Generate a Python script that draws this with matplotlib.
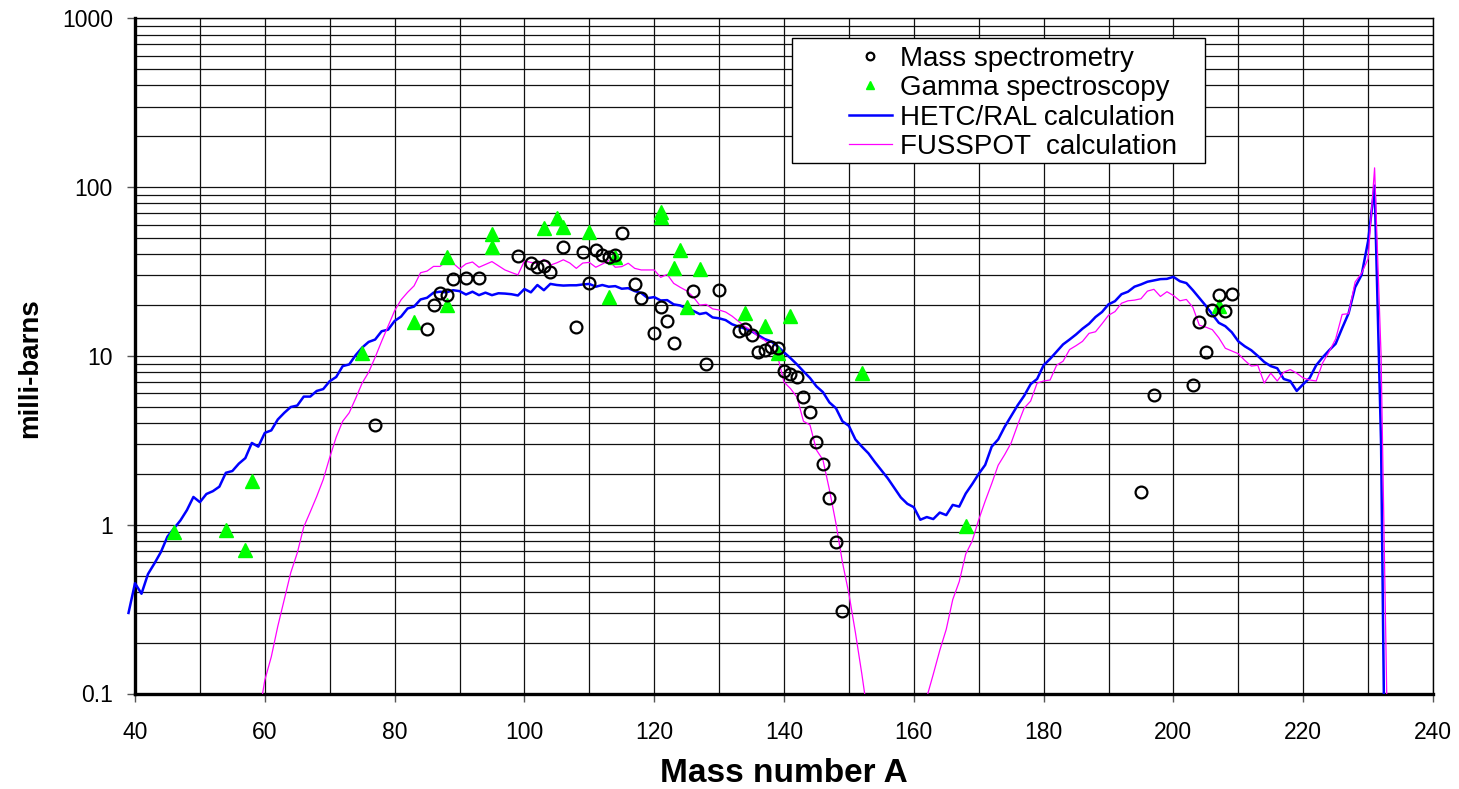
import numpy as np
import matplotlib
matplotlib.use("Agg")
import matplotlib.pyplot as plt
from matplotlib.ticker import LogLocator, MultipleLocator, NullFormatter
from matplotlib.transforms import Bbox, TransformedBbox
from matplotlib.patches import Rectangle

plt.rcParams['font.family'] = ['Liberation Sans', 'DejaVu Sans']

# --- data ---
# HETC/RAL calculation (one value per mass number)
hetc_a = list(range(39, 234))
hetc_mb = [
    0.30, 0.45, 0.39, 0.51, 0.59, 0.69, 0.85, 0.95, 1.06, 1.22,       # 39-48
    1.46, 1.36, 1.52, 1.58, 1.68, 2.03, 2.08, 2.30, 2.48, 3.05,       # 49-58
    2.90, 3.50, 3.62, 4.20, 4.60, 4.98, 5.08, 5.74, 5.74, 6.20,       # 59-68
    6.36, 7.08, 7.50, 8.70, 8.90, 10.1, 11.2, 12.1, 12.5, 14.0,       # 69-78
    14.3, 16.1, 17.1, 19.1, 19.6, 21.6, 22.1, 23.7, 24.0, 23.8,       # 79-88
    24.5, 24.2, 23.1, 24.0, 22.9, 23.7, 22.9, 23.5, 23.4, 23.2,       # 89-98
    22.8, 24.9, 23.8, 26.3, 24.5, 26.7, 26.3, 26.1, 26.2, 26.2,       # 99-108
    26.5, 26.7, 25.7, 26.3, 25.7, 25.9, 25.0, 25.2, 24.2, 23.6,       # 109-118
    22.0, 22.3, 21.3, 21.4, 20.2, 19.9, 19.1, 18.5, 17.7, 18.0,       # 119-128
    16.9, 16.7, 16.3, 15.4, 14.9, 14.5, 14.0, 13.3, 12.6, 12.2,       # 129-138
    11.4, 10.5, 9.7, 8.9, 8.1, 7.4, 6.6, 6.1, 5.3, 4.9,               # 139-148
    4.1, 3.85, 3.2, 2.9, 2.65, 2.35, 2.1, 1.88, 1.65, 1.45,           # 149-158
    1.33, 1.27, 1.07, 1.11, 1.08, 1.18, 1.14, 1.31, 1.28, 1.53,       # 159-168
    1.74, 2.0, 2.26, 2.9, 3.2, 3.8, 4.4, 5.1, 5.8, 6.8,               # 169-178
    7.3, 8.8, 9.6, 10.6, 11.7, 12.5, 13.4, 14.5, 15.5, 17.0,          # 179-188
    18.2, 20.2, 21.1, 23.2, 24.0, 25.7, 26.5, 27.5, 28.0, 28.5,       # 189-198
    28.6, 29.4, 27.7, 27.0, 24.5, 22.0, 19.8, 17.6, 15.7, 15.0,       # 199-208
    13.8, 12.2, 11.4, 10.8, 10.0, 9.2, 8.7, 8.45, 7.3, 7.1,           # 209-218
    6.2, 6.8, 7.4, 8.8, 9.8, 10.8, 11.8, 14.6, 17.9, 25.5,            # 219-228
    30.2, 47.9, 102.0, 3.0, 0.001,                                    # 229-233
]

# FUSSPOT calculation
fuss_a = list(range(59, 154)) + list(range(162, 234))
fuss_mb = [
    0.07, 0.12, 0.165, 0.25, 0.36, 0.52, 0.68, 0.97, 1.19, 1.47,      # 59-68
    1.85, 2.5, 3.3, 4.1, 4.6, 5.6, 6.9, 8.0, 9.8, 12.2,               # 69-78
    15.0, 18.5, 21.5, 23.8, 26.0, 31.1, 31.8, 33.9, 33.9, 36.5,       # 79-88
    35.4, 32.8, 35.1, 36.0, 33.5, 34.8, 36.2, 34.2, 32.3, 31.2,       # 89-98
    30.2, 36.5, 35.8, 35.3, 37.3, 34.5, 35.6, 37.1, 35.5, 33.0,       # 99-108
    35.5, 35.8, 33.5, 35.0, 36.7, 33.5, 33.8, 35.4, 33.0, 32.3,       # 109-118
    32.3, 32.3, 29.2, 30.4, 26.9, 25.5, 24.3, 22.4, 20.0, 20.2,       # 119-128
    19.0, 18.7, 18.2, 17.2, 16.0, 14.9, 14.2, 13.0, 12.4, 11.3,       # 129-138
    10.0, 7.0, 6.4, 5.7, 4.1, 3.9, 2.77, 2.42, 1.61, 1.02,            # 139-148
    0.60, 0.39, 0.23, 0.13, 0.07,                                     # 149-153
    0.095, 0.13, 0.18, 0.24, 0.36, 0.46, 0.67, 0.80,                  # 162-169
    1.07, 1.38, 1.75, 2.25, 2.6, 3.05, 3.9, 4.9, 5.4, 6.9,            # 170-179
    7.1, 7.2, 8.8, 9.3, 10.9, 11.5, 12.2, 13.6, 13.9, 15.5,           # 180-189
    17.4, 18.3, 20.5, 21.2, 21.4, 21.8, 24.2, 24.8, 22.5, 24.0,       # 190-199
    22.8, 21.2, 21.6, 19.4, 15.2, 14.8, 14.3, 12.8, 11.1, 10.7,       # 200-209
    10.3, 9.4, 8.7, 8.8, 6.9, 7.9, 7.1, 8.0, 8.3, 7.9,                # 210-219
    7.4, 7.2, 7.1, 9.1, 10.6, 12.6, 17.6, 17.8, 27.4, 30.9,           # 220-229
    37.6, 130.0, 10.0, 0.05,                                          # 230-233
]

# Mass spectrometry
ms_a = [77, 85, 86, 87, 88, 89, 91, 93, 99, 101, 102, 103, 104, 106, 108,
        109, 110, 111, 112, 113, 114, 115, 117, 118, 120, 121, 122, 123, 126,
        128, 130, 133, 134, 135, 136, 137, 138, 139, 140, 141, 142, 143, 144,
        145, 146, 147, 148, 149, 195, 197, 203, 204, 205, 206, 207, 208, 209]
ms_mb = [3.9, 14.4, 20.1, 23.5, 23.0, 28.6, 29.1, 28.9, 39.1, 35.3, 33.5,
         34.1, 31.6, 44.0, 14.8, 41.4, 26.9, 42.4, 39.6, 38.7, 39.6, 53.2,
         26.7, 21.9, 13.7, 19.6, 16.0, 11.9, 24.3, 9.0, 24.5, 14.1, 14.4,
         13.3, 10.6, 10.8, 11.3, 11.1, 8.1, 7.8, 7.5, 5.7, 4.65, 3.08, 2.28,
         1.43, 0.79, 0.31, 1.57, 5.9, 6.7, 15.9, 10.5, 18.8, 22.9, 18.5, 23.2]

# Gamma spectroscopy
gs_a = [46, 54, 57, 58, 75, 83, 88, 88, 95, 95, 103, 105, 106, 110, 113,
        114, 121, 121, 123, 124, 125, 127, 134, 137, 139, 141, 152, 168, 207]
gs_mb = [0.91, 0.93, 0.71, 1.82, 10.4, 15.8, 38.8, 20.0, 52.5, 44.4, 57.5,
         65.3, 58.2, 53.9, 22.2, 38.7, 71.4, 66.2, 33.0, 42.4, 19.4, 32.7,
         17.9, 15.1, 10.4, 17.3, 7.9, 0.98, 19.7]

x_ticks = [40, 60, 80, 100, 120, 140, 160, 180, 200, 220, 240]
y_ticks = [0.1, 1, 10, 100, 1000]
y_tick_labels = ['0.1', '1', '10', '100', '1000']

# --- figure ---
fig = plt.figure(figsize=(14.59, 7.89), dpi=100)
ax = fig.add_axes([135 / 1459, 1 - 693.5 / 789, 1298 / 1459, 675.2 / 789])

ax.set_yscale('log')
ax.set_xlim(40, 240)
ax.set_ylim(0.1, 1000)

ax.xaxis.set_minor_locator(MultipleLocator(10))
ax.set_yticks(y_ticks)
ax.set_yticklabels(y_tick_labels)
ax.yaxis.set_minor_locator(LogLocator(base=10, subs=np.arange(2, 10)))
ax.yaxis.set_minor_formatter(NullFormatter())
ax.set_xticks(x_ticks)
ax.set_xticklabels([str(t) for t in x_ticks])

ax.grid(True, which='both', color='#111111', linewidth=0.9)
ax.set_axisbelow(True)
ax.tick_params(which='major', direction='out', length=6, width=1,
               labelsize=16.5, color='#555555')
ax.tick_params(axis='x', which='major', pad=14)
ax.tick_params(axis='y', which='major', pad=10)
ax.tick_params(which='minor', length=0)

for side in ['left', 'bottom']:
    ax.spines[side].set_linewidth(2.4)
for side in ['top', 'right']:
    ax.spines[side].set_linewidth(1.0)

line_h, = ax.plot(hetc_a, hetc_mb, color='#0000ff', lw=1.8,
                  label='HETC/RAL calculation', zorder=3)
line_h.set_clip_box(TransformedBbox(Bbox([[-0.01, 0], [1, 1]]), ax.transAxes))
line_f, = ax.plot(fuss_a, fuss_mb, color='#ff00ff', lw=0.9,
                  label='FUSSPOT  calculation', zorder=3)

pts_m, = ax.plot(ms_a, ms_mb, 'o', mfc='none', mec='black', mew=1.6, ms=8.5,
                 label='Mass spectrometry', zorder=5)
pts_g, = ax.plot(gs_a, gs_mb, '^', color='#00ff00', mec='#00ff00', ms=9.5,
                 label='Gamma spectroscopy', zorder=4)

ax.set_xlabel('Mass number A', fontsize=24, fontweight='bold', labelpad=10)
ax.set_ylabel('milli-barns', fontsize=20, fontweight='bold')
ax.yaxis.set_label_coords(-0.071, 0.482)

# legend box drawn separately, wider than its contents like the original
ax.add_patch(Rectangle((0.506, 0.786), 0.318, 0.185, transform=ax.transAxes,
                       facecolor='white', edgecolor='black', lw=1.0, zorder=6))
leg = ax.legend(handles=[pts_m, pts_g, line_h, line_f],
                loc='upper left', bbox_to_anchor=(0.535, 0.988),
                frameon=False, fontsize=20, handlelength=1.55,
                handletextpad=0.3, labelspacing=0.12, borderpad=0.2,
                markerscale=0.65)
leg.set_zorder(7)

fig.savefig('out.png', dpi=100)
